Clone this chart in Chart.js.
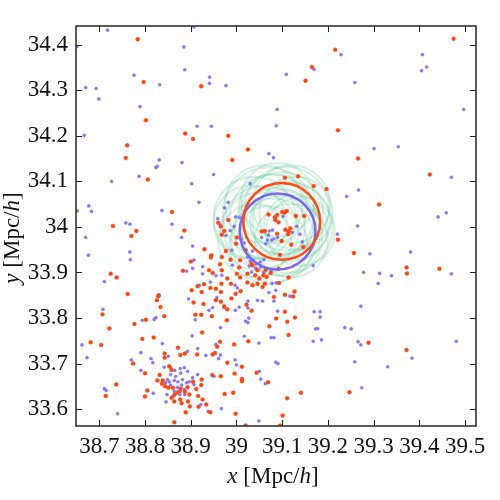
<!DOCTYPE html>
<html>
<head>
<meta charset="utf-8">
<script src="https://cdn.jsdelivr.net/npm/chart.js@4"></script>
<style>
  html, body { margin: 0; padding: 0; background: #fff; }
  #wrap { width: 500px; height: 500px; }
</style>
</head>
<body>
<div id="wrap"><canvas id="chart" width="500" height="500"></canvas></div>
<script>
// axis setup
const xTicks = [38.7, 38.8, 38.9, 39.0, 39.1, 39.2, 39.3, 39.4, 39.5];
const yTicks = [33.6, 33.7, 33.8, 33.9, 34.0, 34.1, 34.2, 34.3, 34.4];
const xRange = [38.649, 39.524];
const yRange = [33.563, 34.441];

// galaxy positions (blue)
const bluePoints = [
  [38.718,34.432],[38.907,34.439],[38.651,34.396],[38.885,34.395],[38.887,34.345],[38.776,34.333],[38.941,34.329],[38.941,34.315],
  [38.832,34.312],[38.670,34.306],[38.693,34.304],[38.699,34.281],[38.789,34.264],[38.914,34.221],[38.945,34.221],[38.667,34.201],[38.831,34.147],
  [39.229,34.378],[39.170,34.346],[39.109,34.335],[38.977,34.310],[39.089,34.258],[39.087,34.222],[39.071,34.161],[39.081,34.152],
  [39.407,34.378],[39.416,34.351],[39.405,34.343],[39.259,34.317],[39.497,34.258],[39.301,34.172],[39.354,34.176],
  [38.827,34.133],[38.824,34.130],[38.881,34.141],[38.787,34.111],[38.727,34.100],[38.950,34.115],[38.902,34.095],[38.918,34.054],
  [38.677,34.046],[38.652,34.035],[38.683,34.034],[38.837,34.036],[38.758,34.009],[38.767,34.006],[38.859,34.006],[38.670,33.977],
  [38.880,33.977],[38.904,33.958],[38.767,33.945],[38.676,33.938],[38.768,33.928],[38.907,33.927],[38.926,33.913],[38.904,33.909],
  [38.891,33.903],[38.926,33.897],[38.711,33.880],[38.943,33.879],[38.919,33.872],
  [39.030,34.095],[39.241,34.067],[38.982,34.054],[38.974,34.042],[38.998,34.022],[39.006,34.021],[38.959,34.018],[38.964,34.005],
  [38.986,33.992],[38.977,33.981],[38.995,34.001],[39.011,33.973],[38.990,33.949],[39.017,33.965],[39.102,34.023],[39.132,34.001],
  [39.072,33.991],[39.079,33.993],[39.070,33.982],[39.077,33.971],[39.082,33.974],[39.068,33.971],[39.055,33.977],[39.064,33.963],
  [39.090,33.977],[39.139,33.984],[39.144,33.967],[39.122,33.988],[39.221,33.984],[39.035,33.947],[39.168,33.915],
  [39.024,33.934],[39.030,33.925],[39.037,33.927],[39.043,33.919],[39.052,33.923],[39.060,33.928],[39.028,33.914],[39.042,33.909],
  [39.053,33.912],[39.033,33.901],[39.060,33.900],[39.076,33.905],[38.968,33.894],[38.955,33.893],[38.997,33.872],[39.002,33.866],
  [39.078,33.876],[39.087,33.877],[39.071,33.856],[39.086,33.861],[38.991,33.916],
  [39.470,34.109],[39.267,34.081],[39.441,34.022],[39.459,34.031],[39.265,34.002],[39.292,33.941],[39.381,33.945],[39.278,33.900],
  [39.313,33.898],[39.339,33.893],[39.310,33.876],[39.470,33.897],
  [38.895,33.842],[38.708,33.819],[38.940,33.817],[38.948,33.823],[38.910,33.796],[38.824,33.801],[38.820,33.797],[38.794,33.795],
  [38.903,33.761],[38.662,33.741],[38.838,33.744],[38.791,33.724],[38.673,33.713],[38.711,33.645],[38.715,33.641],[38.818,33.635],
  [38.846,33.616],[38.740,33.590],[38.893,33.727],[38.915,33.733],[38.933,33.718],[38.851,33.716],[38.770,33.708],[38.813,33.711],
  [38.817,33.702],[38.791,33.685],[38.922,33.610],[38.938,33.595],
  [38.842,33.692],[38.856,33.691],[38.865,33.685],[38.877,33.689],[38.886,33.691],[38.856,33.676],[38.867,33.672],[38.878,33.679],
  [38.893,33.683],[38.849,33.665],[38.864,33.663],[38.872,33.660],[38.882,33.665],[38.891,33.658],[38.856,33.653],[38.871,33.648],
  [38.880,33.653],[38.864,33.639],[38.877,33.639],[38.886,33.643],[38.848,33.632],[38.861,33.628],[38.897,33.660],[38.904,33.669],
  [38.915,33.676],[38.907,33.654],[38.845,33.658],[38.853,33.660],[38.876,33.632],[38.887,33.632],
  [38.957,33.845],[39.046,33.839],[39.057,33.837],[39.082,33.837],[39.117,33.848],[39.025,33.837],[38.973,33.823],[39.025,33.822],
  [39.006,33.824],[38.998,33.817],[39.090,33.815],[39.170,33.814],[39.183,33.814],[39.183,33.802],[39.027,33.800],[39.020,33.793],
  [39.025,33.790],[38.965,33.779],[39.173,33.776],[39.178,33.777],[39.237,33.779],[39.251,33.776],[39.017,33.760],[39.076,33.757],
  [39.082,33.757],[39.049,33.745],[39.168,33.749],[39.186,33.752],[38.955,33.742],[38.965,33.719],[38.961,33.711],[38.997,33.708],
  [39.000,33.697],[39.086,33.703],[39.091,33.700],[39.050,33.683],[38.951,33.672],[39.053,33.666],[39.063,33.656],[38.967,33.601],
  [39.049,33.574],
  [39.272,33.826],[39.266,33.748],[39.272,33.741],[39.481,33.749],[39.384,33.712],[39.259,33.704],[39.331,33.693],[39.274,33.647]
];

// galaxy positions (orange)
const redPoints = [
  [38.784,34.412],[38.797,34.318],[38.923,34.309],[38.802,34.234],[38.888,34.205],[38.905,34.193],[38.761,34.179],[38.758,34.151],
  [39.216,34.389],[39.165,34.351],[39.151,34.321],[38.982,34.200],[39.222,34.212],[39.025,34.170],[38.991,34.147],
  [39.475,34.413],[39.266,34.150],
  [38.806,34.104],[38.859,34.033],[38.730,34.002],[38.781,33.991],[38.770,33.980],[38.886,33.992],[38.930,33.951],[38.945,33.938],
  [38.944,33.933],[38.900,33.924],[38.883,33.904],[38.940,33.905],[38.948,33.899],[38.725,33.897],[38.738,33.889],[38.929,33.874],
  [38.915,33.870],[38.943,33.866],[38.902,33.861],[38.924,33.857],[38.762,33.853],[38.830,33.850],
  [39.106,34.108],[39.135,34.111],[39.169,34.090],[39.197,34.083],[38.982,34.015],[38.960,34.009],[38.966,34.001],[38.973,33.991],
  [38.968,33.983],[39.001,33.977],[38.999,33.963],[38.977,33.947],[39.020,33.949],[39.070,34.027],[39.084,34.021],[39.089,34.026],
  [39.100,34.033],[39.105,34.031],[39.110,34.035],[39.085,34.015],[39.092,34.010],[39.130,34.024],[39.148,34.024],[39.107,33.994],
  [39.114,33.990],[39.118,33.997],[39.113,33.984],[39.055,33.990],[39.062,33.991],[39.099,33.969],[39.089,33.985],[39.120,33.961],
  [39.146,33.956],[39.222,33.972],[39.095,33.939],[39.006,33.911],[38.987,33.928],[39.114,33.889],[39.093,33.877],[39.127,33.858],
  [39.257,33.943],
  [39.008,33.927],[39.035,33.916],[39.046,33.905],[39.064,33.906],[39.033,33.919],[39.024,33.897],[39.041,33.894],[39.059,33.894],
  [39.075,33.899],[39.092,33.908],[39.050,33.887],[39.066,33.890],[38.968,33.934],[38.964,33.918],[38.968,33.905],[38.980,33.887],
  [39.001,33.897],[39.008,33.889],[38.967,33.875],[38.988,33.875],[39.024,33.878],[39.035,33.872],[39.046,33.875],[39.062,33.875],
  [39.057,33.868],[38.955,33.864],[38.966,33.857],[38.998,33.853],[39.009,33.859],
  [39.423,34.115],[39.312,34.049],[39.372,33.911],[39.373,33.898],[39.444,33.908],
  [38.826,33.839],[38.829,33.848],[38.906,33.834],[38.928,33.831],[38.707,33.808],[38.834,33.824],[38.842,33.804],[38.910,33.807],
  [38.923,33.807],[38.946,33.804],[38.802,33.796],[38.777,33.787],[38.722,33.777],[38.925,33.768],[38.819,33.757],[38.794,33.754],
  [38.681,33.747],[38.704,33.741],[38.843,33.722],[38.843,33.713],[38.774,33.700],[38.800,33.679],[38.737,33.654],[38.714,33.629],
  [38.805,33.641],[38.800,33.628],[38.889,33.593],[38.864,33.571],
  [38.872,33.735],[38.914,33.720],[38.948,33.720],[38.877,33.719],[38.887,33.722],[38.858,33.625],[38.880,33.613],[38.894,33.617],
  [38.898,33.606],[38.917,33.605],[38.943,33.593],
  [38.832,33.675],[38.827,33.663],[38.839,33.663],[38.853,33.694],[38.858,33.686],[38.844,33.650],[38.851,33.647],[38.861,33.647],
  [38.872,33.637],[38.865,33.632],[38.878,33.645],[38.887,33.638],[38.893,33.648],[38.905,33.660],[38.924,33.665],[38.923,33.653],
  [38.947,33.675],[38.912,33.644],[38.916,33.629],[38.926,33.621],[38.934,33.610],[38.864,33.617],[38.877,33.621],[38.897,33.632],
  [38.837,33.656],
  [38.955,33.839],[38.966,33.836],[38.989,33.843],[39.082,33.846],[39.106,33.851],[39.124,33.847],[38.973,33.826],[38.980,33.819],
  [39.022,33.829],[39.033,33.816],[39.106,33.814],[39.087,33.799],[39.128,33.801],[39.111,33.792],[38.979,33.795],[39.072,33.782],
  [39.114,33.763],[38.964,33.748],[39.026,33.749],[38.958,33.737],[38.995,33.742],[38.953,33.723],[38.980,33.702],[39.012,33.693],
  [39.044,33.680],[38.996,33.678],[38.966,33.672],[39.012,33.666],[39.012,33.661],[39.069,33.659],[38.974,33.633],[38.993,33.636],
  [39.141,33.636],[39.111,33.624],[38.998,33.590],[39.101,33.586],[39.020,33.564],[39.096,33.564],[39.247,33.637],
  [39.289,33.746],[39.372,33.730]
];

// green rings: centres and radii (Mpc/h)
const greenCenters = [
  [39.08,34.02],[39.10,34.03],[39.12,34.01],[39.06,34.00],[39.11,34.04],[39.09,33.99],
  [39.13,34.03],[39.06,34.05],[39.10,33.98],[39.04,34.02],[39.14,33.99],[39.09,34.06],
  [39.08,33.97],[39.12,34.05],[39.05,33.99],[39.11,34.00],[39.04,33.97],[39.10,34.01],
  [39.07,34.03],[39.13,34.00],[39.07,33.96],[39.03,34.01],[39.12,33.97],[39.08,34.04]
];
const greenRadii = [
  0.095,0.090,0.085,0.090,0.092,0.095,0.080,0.085,0.088,0.090,0.075,0.080,
  0.092,0.085,0.085,0.100,0.080,0.070,0.100,0.070,0.085,0.080,0.080,0.075
];

const blueCircle = [39.090, 33.990];
const blueRadius = 0.083;
const redCircle = [39.099, 34.012];
const redRadius = 0.084;

const FONT = "'Liberation Serif', 'Times New Roman', serif";

function toXY(list) {
  return list.map(([x, y]) => ({ x, y }));
}

// radius in data units -> pixels, via the x scale
function radiusPx(chart, r) {
  const s = chart.scales && chart.scales.x;
  if (!s) return 0;
  return Math.abs(s.getPixelForValue(s.min + r) - s.getPixelForValue(s.min));
}

function tickLabel(v) {
  return String(Number(v.toFixed(1)));
}

// frame, inward ticks and the axis titles
const framePlugin = {
  id: "frame",
  afterDraw(chart) {
    const { ctx, chartArea: a, scales } = chart;
    ctx.save();
    ctx.strokeStyle = "#222";
    ctx.lineWidth = 1;
    const len = 6;
    xTicks.forEach((v) => {
      const px = Math.round(scales.x.getPixelForValue(v)) + 0.5;
      ctx.beginPath();
      ctx.moveTo(px, a.bottom); ctx.lineTo(px, a.bottom - len);
      ctx.moveTo(px, a.top); ctx.lineTo(px, a.top + len);
      ctx.stroke();
    });
    yTicks.forEach((v) => {
      const py = Math.round(scales.y.getPixelForValue(v)) + 0.5;
      ctx.beginPath();
      ctx.moveTo(a.left, py); ctx.lineTo(a.left + len, py);
      ctx.moveTo(a.right, py); ctx.lineTo(a.right - len, py);
      ctx.stroke();
    });
    ctx.lineWidth = 1.6;
    ctx.strokeStyle = "#333";
    ctx.strokeRect(a.left, a.top, a.right - a.left, a.bottom - a.top);

    const parts = [["x", true], [" [Mpc/", false], ["h", true], ["]", false]];
    const size = 23;
    const widthOf = () => parts.reduce((w, [t, it]) => {
      ctx.font = (it ? "italic " : "") + size + "px " + FONT;
      return w + ctx.measureText(t).width;
    }, 0);
    const drawParts = (x0, y0) => {
      let x = x0;
      parts.forEach(([t, it]) => {
        ctx.font = (it ? "italic " : "") + size + "px " + FONT;
        ctx.fillText(t, x, y0);
        x += ctx.measureText(t).width;
      });
    };
    ctx.fillStyle = "#111";
    ctx.textBaseline = "alphabetic";
    ctx.textAlign = "left";
    const w = widthOf();
    drawParts((a.left + a.right) / 2 - 3 - w / 2, 483);

    parts[0][0] = "y";
    const wy = widthOf();
    ctx.translate(19, 238);
    ctx.rotate(-Math.PI / 2);
    drawParts(-wy / 2, 0);
    ctx.restore();
  },
};

const ctx = document.getElementById("chart").getContext("2d");
new Chart(ctx, {
  type: "scatter",
  data: {
    datasets: [
      {
        data: toXY(greenCenters),
        pointRadius: (c) => radiusPx(c.chart, greenRadii[c.dataIndex]),
        pointBackgroundColor: "rgba(0,0,0,0)",
        pointBorderColor: "rgba(110,200,158,0.28)",
        pointBorderWidth: 2,
        order: 5,
      },
      {
        data: toXY(bluePoints),
        pointRadius: 1.6,
        pointBackgroundColor: "#8578f2",
        pointBorderColor: "rgba(133,120,242,0.35)",
        pointBorderWidth: 1,
        order: 4,
      },
      {
        data: toXY(redPoints),
        pointRadius: 2,
        pointBackgroundColor: "#ff4512",
        pointBorderColor: "rgba(255,69,18,0.35)",
        pointBorderWidth: 1,
        order: 3,
      },
      {
        data: toXY([blueCircle]),
        pointRadius: (c) => radiusPx(c.chart, blueRadius),
        pointBackgroundColor: "rgba(0,0,0,0)",
        pointBorderColor: "#7866ee",
        pointBorderWidth: 2.5,
        order: 2,
      },
      {
        data: toXY([redCircle]),
        pointRadius: (c) => radiusPx(c.chart, redRadius),
        pointBackgroundColor: "rgba(0,0,0,0)",
        pointBorderColor: "#ff4a14",
        pointBorderWidth: 2.5,
        order: 1,
      },
    ],
  },
  options: {
    responsive: false,
    animation: false,
    events: [],
    layout: { padding: { top: 26, right: 24, left: 0, bottom: 0 } },
    plugins: { legend: { display: false }, tooltip: { enabled: false } },
    scales: {
      x: {
        type: "linear",
        min: xRange[0],
        max: xRange[1],
        afterBuildTicks: (s) => { s.ticks = xTicks.map((v) => ({ value: v })); },
        afterFit: (s) => { s.height = 74; },
        grid: { display: false, drawTicks: false },
        border: { display: false },
        ticks: {
          color: "#111",
          padding: 7,
          maxRotation: 0,
          autoSkip: false,
          font: { family: FONT, size: 23 },
          callback: (v) => tickLabel(v),
        },
      },
      y: {
        type: "linear",
        min: yRange[0],
        max: yRange[1],
        afterBuildTicks: (s) => { s.ticks = yTicks.map((v) => ({ value: v })); },
        afterFit: (s) => { s.width = 76; },
        grid: { display: false, drawTicks: false },
        border: { display: false },
        ticks: {
          color: "#111",
          padding: 8,
          autoSkip: false,
          font: { family: FONT, size: 23 },
          callback: (v) => tickLabel(v),
        },
      },
    },
  },
  plugins: [framePlugin],
});
</script>
</body>
</html>
